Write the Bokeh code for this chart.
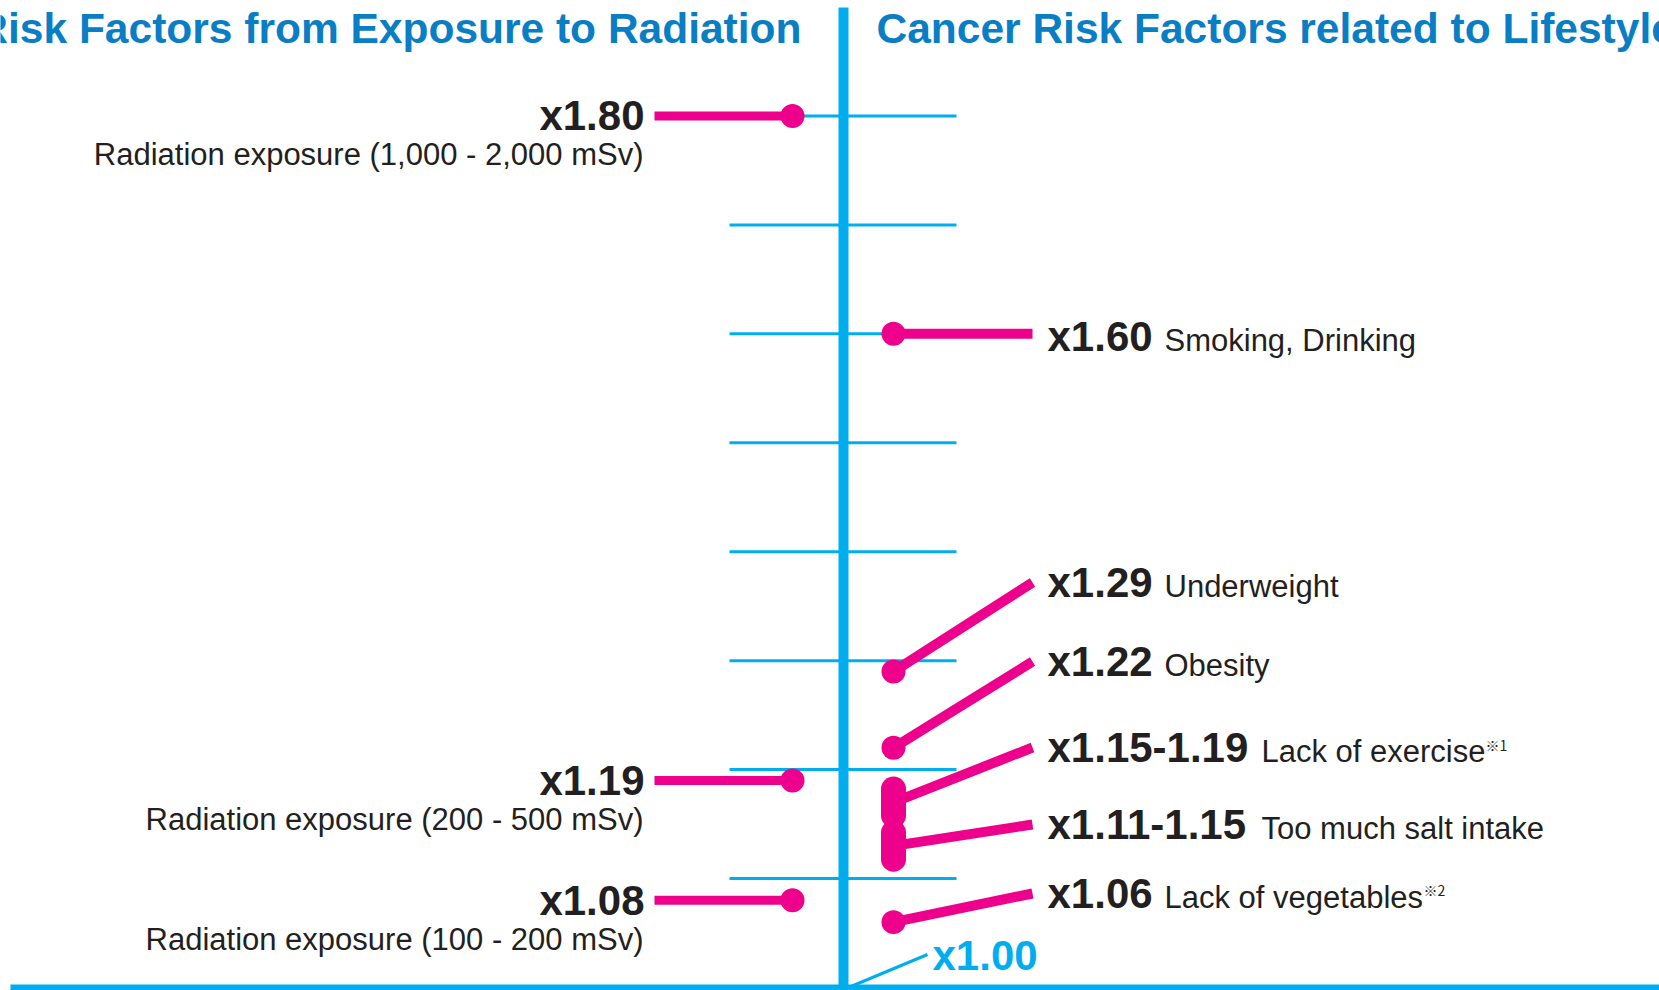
from bokeh.plotting import figure
from bokeh.models import Range1d, ColumnDataSource
from bokeh.core.properties import value
from bokeh.embed import file_html
from bokeh.resources import INLINE

# ---------------- data ----------------
title_left = "Risk Factors from Exposure to Radiation"
title_right = "Cancer Risk Factors related to Lifestyle"

rad_values = [1.80, 1.19, 1.08]
rad_labels = ["x1.80", "x1.19", "x1.08"]
rad_desc = ["Radiation exposure (1,000 - 2,000 mSv)",
            "Radiation exposure (200 - 500 mSv)",
            "Radiation exposure (100 - 200 mSv)"]

life_low = [1.60, 1.29, 1.22, 1.15, 1.11, 1.06]
life_high = [1.60, 1.29, 1.22, 1.19, 1.15, 1.06]
life_labels = ["x1.60", "x1.29", "x1.22", "x1.15-1.19", "x1.11-1.15", "x1.06"]
life_desc = ["Smoking, Drinking", "Underweight", "Obesity",
             "Lack of exercise", "Too much salt intake", "Lack of vegetables"]
life_note = ["", "", "", "※1", "", "※2"]

tick_values = [1.1, 1.2, 1.3, 1.4, 1.5, 1.6, 1.7, 1.8]
base_value = 1.00
base_label = "x1.00"

# ---------------- layout / style ----------------
PINK = "#EC008C"
CYAN = "#00AEEF"
TITLE_BLUE = "#0A7EC4"
DARK = "#231F20"
FONT = "Liberation Sans"

W, H = 1659, 990
PX = 1089.4                      # screen px per unit of risk
Y_TOP = 1.906
Y_BOT = Y_TOP - H / PX
X_LEFT, X_RIGHT = -843, 816      # axis at x = 0

# label centres / leader line ends on the right (layout, in risk units)
life_label_y = [1.5976, 1.3718, 1.2992, 1.2203, 1.1496, 1.0863]
life_line_y = [1.6000, 1.3718, 1.2992, 1.2203, 1.1496, 1.0863]
life_desc_x = [321, 321, 321, 418, 418, 321]
life_note_x = [0, 0, 0, 642, 0, 580]

SUB_DY = 39 / PX          # sub label centre below bold label
REG_DY = 4 / PX           # regular text sits 4px lower than bold (shared baseline)
CAP_R = 12.5 / PX         # capsule radius
CAP_EXT = 4 / PX

p = figure(width=W, height=H, x_range=Range1d(X_LEFT, X_RIGHT),
           y_range=Range1d(Y_BOT, Y_TOP), output_backend="svg",
           toolbar_location=None, min_border=0, title=None,
           x_axis_location=None, y_axis_location=None)
p.grid.visible = False
p.outline_line_color = None
p.background_fill_color = "white"
p.border_fill_color = "white"

# ticks
n_t = len(tick_values)
p.segment(x0=[-114] * n_t, x1=[113] * n_t, y0=tick_values, y1=tick_values,
          line_width=3, line_color=CYAN)
# vertical axis and baseline
p.segment(x0=[0], x1=[0], y0=[base_value], y1=[Y_TOP - 7 / PX], line_width=10, line_color=CYAN)
p.segment(x0=[X_LEFT + 10], x1=[X_RIGHT + 5], y0=[base_value], y1=[base_value],
          line_width=6, line_color=CYAN)
# x1.00 pointer
p.segment(x0=[5], x1=[84], y0=[base_value], y1=[base_value + 33 / PX],
          line_width=3, line_color=CYAN)
p.text(x=[89], y=[base_value + 32 / PX], text=[base_label],
       text_font=value(FONT), text_font_style="bold", text_font_size="42px",
       text_color=CYAN, text_align="left", text_baseline="middle")

# titles
p.text(x=[-42], y=[Y_TOP - 28 / PX], text=[title_left], text_font=value(FONT),
       text_font_style="bold", text_font_size="42.5px", text_color=TITLE_BLUE,
       text_align="right", text_baseline="middle")
p.text(x=[33], y=[Y_TOP - 28 / PX], text=[title_right], text_font=value(FONT),
       text_font_style="bold", text_font_size="42.5px", text_color=TITLE_BLUE,
       text_align="left", text_baseline="middle")

# ---------------- radiation (left) ----------------
n_r = len(rad_values)
rad = ColumnDataSource(dict(
    v=rad_values, lab=rad_labels, desc=rad_desc,
    desc_y=[v - SUB_DY for v in rad_values],
    x0=[-189] * n_r, x1=[-51] * n_r, lx=[-199] * n_r, dx=[-200] * n_r))
p.segment(x0="x0", x1="x1", y0="v", y1="v", source=rad, line_width=9, line_color=PINK)
p.scatter(x="x1", y="v", source=rad, size=24, fill_color=PINK, line_color=None)
p.text(x="lx", y="v", text="lab", source=rad, text_font=value(FONT),
       text_font_style="bold", text_font_size="42px", text_color=DARK,
       text_align="right", text_baseline="middle")
p.text(x="dx", y="desc_y", text="desc", source=rad, text_font=value(FONT),
       text_font_size="31px", text_color=DARK,
       text_align="right", text_baseline="middle")

# ---------------- lifestyle (right) ----------------
n_l = len(life_low)
mid = [(a + b) / 2 for a, b in zip(life_low, life_high)]
life = ColumnDataSource(dict(
    mid=mid, ly=life_label_y, ey=life_line_y,
    lab=life_labels, desc=life_desc,
    reg_y=[y - REG_DY for y in life_label_y],
    mx=[50] * n_l, ex=[189] * n_l, lx=[204] * n_l, dx=life_desc_x))
p.segment(x0="mx", y0="mid", x1="ex", y1="ey", source=life, line_width=10, line_color=PINK)

singles = [i for i in range(n_l) if life_high[i] == life_low[i]]
ranges = [i for i in range(n_l) if life_high[i] > life_low[i]]
p.scatter(x=[50] * len(singles), y=[life_low[i] for i in singles], size=24,
          fill_color=PINK, line_color=None)
p.segment(x0=[50] * len(ranges), x1=[50] * len(ranges),
          y0=[life_low[i] + CAP_R - CAP_EXT for i in ranges],
          y1=[life_high[i] - CAP_R + CAP_EXT for i in ranges],
          line_width=25, line_color=PINK, line_cap="round")

p.text(x="lx", y="ly", text="lab", source=life, text_font=value(FONT),
       text_font_style="bold", text_font_size="42px", text_color=DARK,
       text_align="left", text_baseline="middle")
p.text(x="dx", y="reg_y", text="desc", source=life, text_font=value(FONT),
       text_font_size="31px", text_color=DARK,
       text_align="left", text_baseline="middle")

notes = [i for i in range(n_l) if life_note[i]]
p.text(x=[life_note_x[i] for i in notes],
       y=[life_label_y[i] + 3 / PX for i in notes],
       text=[life_note[i] for i in notes], text_font=value("Noto Sans CJK JP"),
       text_font_size="14px", text_color=DARK, text_align="left", text_baseline="middle")

open("out.html", "w").write(file_html(p, INLINE))
